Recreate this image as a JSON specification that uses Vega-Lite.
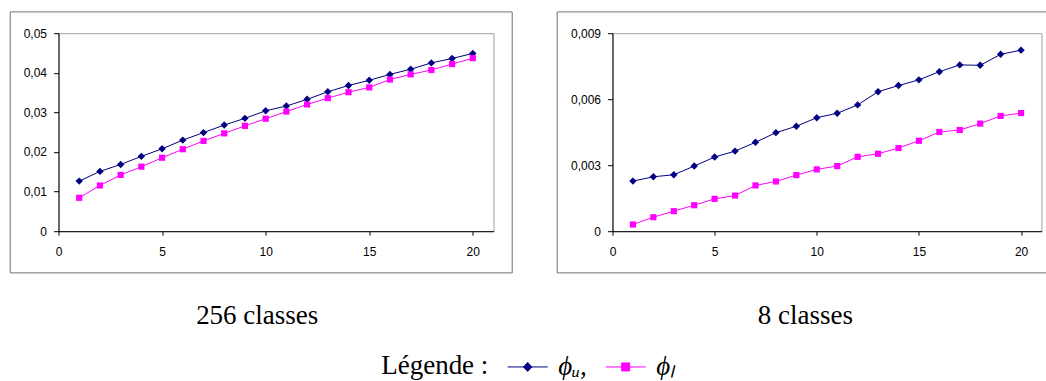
{
  "$schema": "https://vega.github.io/schema/vega-lite/v6.json",
  "background": "white",
  "padding": {"left": 8.5, "top": 10.2, "right": 0, "bottom": 0},
  "datasets": {
    "pts": [
      {"panel": "256", "series": "ϕᵤ", "x": 1, "y": 0.01265},
      {"panel": "256", "series": "ϕᵤ", "x": 2, "y": 0.0151},
      {"panel": "256", "series": "ϕᵤ", "x": 3, "y": 0.01686},
      {"panel": "256", "series": "ϕᵤ", "x": 4, "y": 0.0189},
      {"panel": "256", "series": "ϕᵤ", "x": 5, "y": 0.0208},
      {"panel": "256", "series": "ϕᵤ", "x": 6, "y": 0.023},
      {"panel": "256", "series": "ϕᵤ", "x": 7, "y": 0.0249},
      {"panel": "256", "series": "ϕᵤ", "x": 8, "y": 0.0268},
      {"panel": "256", "series": "ϕᵤ", "x": 9, "y": 0.0285},
      {"panel": "256", "series": "ϕᵤ", "x": 10, "y": 0.0304},
      {"panel": "256", "series": "ϕᵤ", "x": 11, "y": 0.0316},
      {"panel": "256", "series": "ϕᵤ", "x": 12, "y": 0.0333},
      {"panel": "256", "series": "ϕᵤ", "x": 13, "y": 0.0352},
      {"panel": "256", "series": "ϕᵤ", "x": 14, "y": 0.0368},
      {"panel": "256", "series": "ϕᵤ", "x": 15, "y": 0.0381},
      {"panel": "256", "series": "ϕᵤ", "x": 16, "y": 0.0396},
      {"panel": "256", "series": "ϕᵤ", "x": 17, "y": 0.0409},
      {"panel": "256", "series": "ϕᵤ", "x": 18, "y": 0.0425},
      {"panel": "256", "series": "ϕᵤ", "x": 19, "y": 0.0436},
      {"panel": "256", "series": "ϕᵤ", "x": 20, "y": 0.0449},
      {"panel": "256", "series": "ϕₗ", "x": 1, "y": 0.00843},
      {"panel": "256", "series": "ϕₗ", "x": 2, "y": 0.01155},
      {"panel": "256", "series": "ϕₗ", "x": 3, "y": 0.0142},
      {"panel": "256", "series": "ϕₗ", "x": 4, "y": 0.0163},
      {"panel": "256", "series": "ϕₗ", "x": 5, "y": 0.01855},
      {"panel": "256", "series": "ϕₗ", "x": 6, "y": 0.0207},
      {"panel": "256", "series": "ϕₗ", "x": 7, "y": 0.0228},
      {"panel": "256", "series": "ϕₗ", "x": 8, "y": 0.0247},
      {"panel": "256", "series": "ϕₗ", "x": 9, "y": 0.0266},
      {"panel": "256", "series": "ϕₗ", "x": 10, "y": 0.0284},
      {"panel": "256", "series": "ϕₗ", "x": 11, "y": 0.0302},
      {"panel": "256", "series": "ϕₗ", "x": 12, "y": 0.032},
      {"panel": "256", "series": "ϕₗ", "x": 13, "y": 0.0336},
      {"panel": "256", "series": "ϕₗ", "x": 14, "y": 0.0351},
      {"panel": "256", "series": "ϕₗ", "x": 15, "y": 0.0363},
      {"panel": "256", "series": "ϕₗ", "x": 16, "y": 0.0383},
      {"panel": "256", "series": "ϕₗ", "x": 17, "y": 0.0396},
      {"panel": "256", "series": "ϕₗ", "x": 18, "y": 0.0407},
      {"panel": "256", "series": "ϕₗ", "x": 19, "y": 0.0422},
      {"panel": "256", "series": "ϕₗ", "x": 20, "y": 0.0437},
      {"panel": "8", "series": "ϕᵤ", "x": 1, "y": 0.002277},
      {"panel": "8", "series": "ϕᵤ", "x": 2, "y": 0.002474},
      {"panel": "8", "series": "ϕᵤ", "x": 3, "y": 0.002565},
      {"panel": "8", "series": "ϕᵤ", "x": 4, "y": 0.00296},
      {"panel": "8", "series": "ϕᵤ", "x": 5, "y": 0.00337},
      {"panel": "8", "series": "ϕᵤ", "x": 6, "y": 0.00364},
      {"panel": "8", "series": "ϕᵤ", "x": 7, "y": 0.00404},
      {"panel": "8", "series": "ϕᵤ", "x": 8, "y": 0.00448},
      {"panel": "8", "series": "ϕᵤ", "x": 9, "y": 0.00477},
      {"panel": "8", "series": "ϕᵤ", "x": 10, "y": 0.00516},
      {"panel": "8", "series": "ϕᵤ", "x": 11, "y": 0.00536},
      {"panel": "8", "series": "ϕᵤ", "x": 12, "y": 0.00574},
      {"panel": "8", "series": "ϕᵤ", "x": 13, "y": 0.00634},
      {"panel": "8", "series": "ϕᵤ", "x": 14, "y": 0.00662},
      {"panel": "8", "series": "ϕᵤ", "x": 15, "y": 0.00688},
      {"panel": "8", "series": "ϕᵤ", "x": 16, "y": 0.00725},
      {"panel": "8", "series": "ϕᵤ", "x": 17, "y": 0.00756},
      {"panel": "8", "series": "ϕᵤ", "x": 18, "y": 0.00754},
      {"panel": "8", "series": "ϕᵤ", "x": 19, "y": 0.00804},
      {"panel": "8", "series": "ϕᵤ", "x": 20, "y": 0.00823},
      {"panel": "8", "series": "ϕₗ", "x": 1, "y": 0.000304},
      {"panel": "8", "series": "ϕₗ", "x": 2, "y": 0.000637},
      {"panel": "8", "series": "ϕₗ", "x": 3, "y": 0.000911},
      {"panel": "8", "series": "ϕₗ", "x": 4, "y": 0.00118},
      {"panel": "8", "series": "ϕₗ", "x": 5, "y": 0.00147},
      {"panel": "8", "series": "ϕₗ", "x": 6, "y": 0.00162},
      {"panel": "8", "series": "ϕₗ", "x": 7, "y": 0.00208},
      {"panel": "8", "series": "ϕₗ", "x": 8, "y": 0.00226},
      {"panel": "8", "series": "ϕₗ", "x": 9, "y": 0.00255},
      {"panel": "8", "series": "ϕₗ", "x": 10, "y": 0.00281},
      {"panel": "8", "series": "ϕₗ", "x": 11, "y": 0.00296},
      {"panel": "8", "series": "ϕₗ", "x": 12, "y": 0.00338},
      {"panel": "8", "series": "ϕₗ", "x": 13, "y": 0.00352},
      {"panel": "8", "series": "ϕₗ", "x": 14, "y": 0.00378},
      {"panel": "8", "series": "ϕₗ", "x": 15, "y": 0.00411},
      {"panel": "8", "series": "ϕₗ", "x": 16, "y": 0.00451},
      {"panel": "8", "series": "ϕₗ", "x": 17, "y": 0.0046},
      {"panel": "8", "series": "ϕₗ", "x": 18, "y": 0.00489},
      {"panel": "8", "series": "ϕₗ", "x": 19, "y": 0.00524},
      {"panel": "8", "series": "ϕₗ", "x": 20, "y": 0.00537}
    ]
  },
  "data": {"name": "pts"},
  "spacing": 42,
  "resolve": {"scale": {"color": "shared"}},
  "hconcat": [
    {
      "width": 435,
      "height": 198,
      "title": {"text": "256 classes", "orient": "bottom", "baseline": "alphabetic", "offset": 51, "dx": -4, "font": "Liberation Serif", "fontSize": 27, "fontWeight": "normal", "color": "#000000", "anchor": "middle", "frame": "bounds"},
      "layer": [
        {
          "data": {"values": [{"item": "frame"}]},
          "mark": {"type": "rect", "fill": null, "stroke": "#707070", "strokeWidth": 1},
          "encoding": {
            "x": {"datum": -2.332, "type": "quantitative", "scale": {"domain": [0, 21], "nice": false, "zero": false}},
            "x2": {"datum": 21.903},
            "y": {"datum": 0.05538, "type": "quantitative", "scale": {"domain": [0, 0.05], "nice": false, "zero": false}},
            "y2": {"datum": -0.01053}
          }
        },
        {
          "transform": [{"filter": "datum.panel === '256'"}],
          "mark": {"type": "line", "strokeWidth": 1},
          "encoding": {
            "x": {"field": "x", "type": "quantitative", "scale": {"domain": [0, 21], "nice": false, "zero": false}, "axis": {"title": null, "values": [0, 5, 10, 15, 20], "tickCount": 20, "labelFlush": false}},
            "y": {"field": "y", "type": "quantitative", "scale": {"domain": [0, 0.05], "nice": false, "zero": false}, "axis": {"title": null, "values": [0, 0.01, 0.02, 0.03, 0.04, 0.05], "tickCount": 10, "labelOverlap": false, "labelExpr": "datum.value == 0 ? '0' : replace(format(datum.value, '.2f'), '.', ',')"}},
            "color": {
              "field": "series", "type": "nominal",
              "scale": {"domain": ["ϕᵤ", "ϕₗ"], "range": ["#000080", "#ff00ff"]},
              "legend": {
                "title": "Légende :",
                "orient": "none",
                "legendX": 322.7,
                "legendY": 320,
                "direction": "horizontal",
                "padding": 0,
                "titleOrient": "left",
                "titleFont": "Liberation Serif",
                "titleFontSize": 27,
                "titleFontWeight": "normal",
                "titleColor": "#000000",
                "titlePadding": 25,
                "titleBaseline": "middle",
                "labelFont": "Liberation Serif",
                "labelFontSize": 27,
                "labelFontStyle": "italic",
                "labelColor": "#000000",
                "labelOffset": 17,
                "labelLimit": 300,
                "columnPadding": 16,
                "symbolSize": 400,
                "symbolStrokeWidth": 1,
                "symbolOpacity": 1,
                "labelExpr": "datum.label === 'ϕᵤ' ? 'ϕᵤ,' : datum.label",
                "encode": {
                  "symbols": {
                    "update": {
                      "shape": {"signal": "datum.value === 'ϕᵤ' ? 'M-2,0L2,0M0,-0.45L0.42,0L0,0.45L-0.42,0Z' : 'M-2,0L2,0M-0.4,-0.4L0.4,-0.4L0.4,0.4L-0.4,0.4Z'"},
                      "fill": {"signal": "datum.value === 'ϕᵤ' ? '#000080' : '#ff00ff'"},
                      "stroke": {"signal": "datum.value === 'ϕᵤ' ? '#000080' : '#ff00ff'"},
                      "strokeWidth": {"value": 1},
                      "size": {"value": 400}
                    }
                  }
                }
              }
            }
          }
        },
        {
          "transform": [{"filter": "datum.panel === '256' && datum.series === 'ϕᵤ'"}],
          "mark": {"type": "point", "shape": "diamond", "filled": true, "opacity": 1, "size": 55, "strokeWidth": 0},
          "encoding": {
            "x": {"field": "x", "type": "quantitative"},
            "y": {"field": "y", "type": "quantitative"},
            "color": {"field": "series", "type": "nominal"}
          }
        },
        {
          "transform": [{"filter": "datum.panel === '256' && datum.series === 'ϕₗ'"}],
          "mark": {"type": "point", "shape": "square", "filled": true, "opacity": 1, "size": 38, "strokeWidth": 0},
          "encoding": {
            "x": {"field": "x", "type": "quantitative"},
            "y": {"field": "y", "type": "quantitative"},
            "color": {"field": "series", "type": "nominal"}
          }
        }
      ]
    },
    {
      "width": 429,
      "height": 198,
      "title": {"text": "8 classes", "orient": "bottom", "baseline": "alphabetic", "offset": 51, "dx": 3, "font": "Liberation Serif", "fontSize": 27, "fontWeight": "normal", "color": "#000000", "anchor": "middle", "frame": "bounds"},
      "layer": [
        {
          "data": {"values": [{"item": "frame"}]},
          "mark": {"type": "rect", "fill": null, "stroke": "#707070", "strokeWidth": 1},
          "encoding": {
            "x": {"datum": -2.707, "type": "quantitative", "scale": {"domain": [0, 21], "nice": false, "zero": false}},
            "x2": {"datum": 21.3},
            "y": {"datum": 0.009968, "type": "quantitative", "scale": {"domain": [0, 0.009], "nice": false, "zero": false}},
            "y2": {"datum": -0.001895}
          }
        },
        {
          "transform": [{"filter": "datum.panel === '8'"}],
          "mark": {"type": "line", "strokeWidth": 1},
          "encoding": {
            "x": {"field": "x", "type": "quantitative", "scale": {"domain": [0, 21], "nice": false, "zero": false}, "axis": {"title": null, "values": [0, 5, 10, 15, 20], "tickCount": 20, "labelFlush": false}},
            "y": {"field": "y", "type": "quantitative", "scale": {"domain": [0, 0.009], "nice": false, "zero": false}, "axis": {"title": null, "values": [0, 0.003, 0.006, 0.009], "tickCount": 10, "labelOverlap": false, "labelExpr": "datum.value == 0 ? '0' : replace(format(datum.value, '.3f'), '.', ',')"}},
            "color": {"field": "series", "type": "nominal"}
          }
        },
        {
          "transform": [{"filter": "datum.panel === '8' && datum.series === 'ϕᵤ'"}],
          "mark": {"type": "point", "shape": "diamond", "filled": true, "opacity": 1, "size": 55, "strokeWidth": 0},
          "encoding": {
            "x": {"field": "x", "type": "quantitative"},
            "y": {"field": "y", "type": "quantitative"},
            "color": {"field": "series", "type": "nominal"}
          }
        },
        {
          "transform": [{"filter": "datum.panel === '8' && datum.series === 'ϕₗ'"}],
          "mark": {"type": "point", "shape": "square", "filled": true, "opacity": 1, "size": 38, "strokeWidth": 0},
          "encoding": {
            "x": {"field": "x", "type": "quantitative"},
            "y": {"field": "y", "type": "quantitative"},
            "color": {"field": "series", "type": "nominal"}
          }
        }
      ]
    }
  ],
  "config": {
    "view": {"stroke": "#a0a0a0", "strokeWidth": 1},
    "axis": {"grid": false, "domainColor": "#000000", "tickColor": "#000000", "labelColor": "#000000", "labelFont": "Liberation Sans", "labelFontSize": 12, "domainWidth": 1, "tickWidth": 1, "labelFlush": false, "labelOverlap": false},
    "axisX": {"tickSize": 4, "labelPadding": 11},
    "axisY": {"tickSize": 5, "labelPadding": 7}
  }
}
